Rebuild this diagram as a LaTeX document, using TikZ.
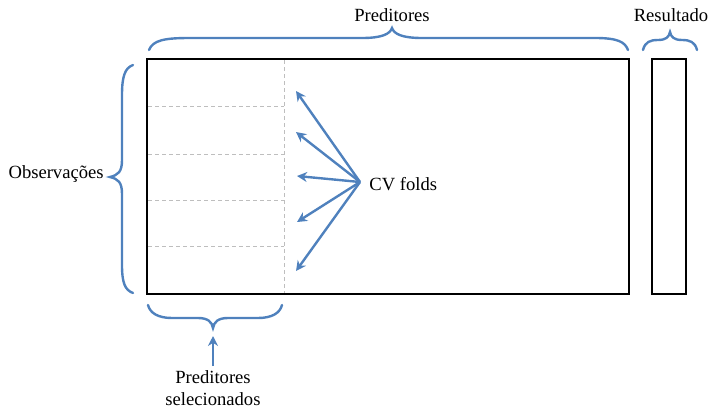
\documentclass[tikz,border=0pt]{standalone}
\usepackage{fontspec}
\setmainfont{Liberation Serif}
\usetikzlibrary{arrows.meta}
\definecolor{bl}{HTML}{4F81BD}
\definecolor{dg}{HTML}{BEBEBE}
\begin{document}
\begin{tikzpicture}[x=0.5pt,y=-0.5pt,
  box/.style={draw=black,line width=1pt},
  brace/.style={draw=bl,line width=1.2pt,line cap=round},
  fold/.style={draw=dg,line width=0.5pt,dash pattern=on 2pt off 1.5pt},
  arr/.style={draw=bl,line width=1.2pt,-{Stealth[length=5pt,width=5pt]}},
  lbl/.style={font=\fontsize{9.3}{11}\selectfont,inner sep=0pt,align=center}]
\useasboundingbox (0,0) rectangle (710,407);
% folds
\foreach \yy in {106,154,200,246} \draw[fold] (148,\yy) -- (284,\yy);
\draw[fold] (284,60) -- (284,293);
% rectangles
\draw[box] (147,59) rectangle (629,294);
\draw[box] (652,59) rectangle (686,294);
% top brace
\draw[brace] (149,50) .. controls (153,40) and (165,38) .. (190,38) -- (362,38)
  .. controls (382,38) and (390,34) .. (392,28)
  .. controls (394,34) and (402,38) .. (422,38) -- (595,38)
  .. controls (618,38) and (625,42) .. (628,50);
\node[lbl] (pred) at (392,15) {Preditores};
% resultado brace
\draw[brace] (643,50) .. controls (645,42) and (650,40) .. (658,40)
  .. controls (666,40) and (669,37) .. (670,32)
  .. controls (671,37) and (674,40) .. (682,40)
  .. controls (690,40) and (695,42) .. (697,50);
\node[lbl] (res) at (671,15) {Resultado};
% left brace
\draw[brace] (133,65) .. controls (125,68) and (122,76) .. (122,95) -- (122,160)
  .. controls (122,172) and (118,175) .. (110,177)
  .. controls (118,179) and (122,182) .. (122,194) -- (122,265)
  .. controls (122,283) and (125,290) .. (133,293);
\node[lbl,anchor=east] (obs) at (104,174) {Observações};
% bottom brace
\draw[brace] (148,305) .. controls (150,313) and (158,318) .. (172,318) -- (198,318)
  .. controls (208,318) and (212,322) .. (213,328)
  .. controls (214,322) and (218,318) .. (228,318) -- (258,318)
  .. controls (272,318) and (280,313) .. (282,305);
\node[lbl] (sel) at (213,388) {Preditores\\selecionados};
\coordinate (btip) at (213,336);
\draw[arr] (sel.north) ++(0,-4) coordinate (sb) (sb) -- (btip);
% CV folds
\node[lbl,anchor=west] (cv) at (369,184) {CV folds};
\coordinate (o) at (360,182);
\coordinate (t1) at (296,91);
\coordinate (t2) at (296,132);
\coordinate (t3) at (297,176);
\coordinate (t4) at (297,222);
\coordinate (t5) at (296,271);
\foreach \t in {t1,t2,t3,t4,t5} \draw[arr] (o) -- (\t);
\end{tikzpicture}
\end{document}
